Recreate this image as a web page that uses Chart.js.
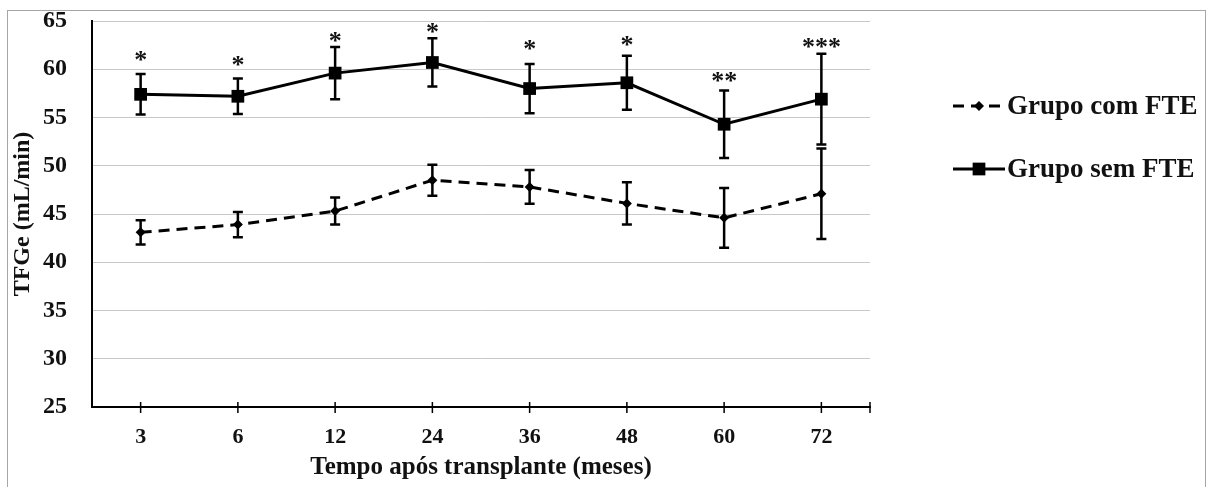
<!DOCTYPE html>
<html>
<head>
<meta charset="utf-8">
<script src="https://cdn.jsdelivr.net/npm/chart.js@4"></script>
<style>
  html, body { margin: 0; padding: 0; background: #fff; overflow: hidden; }
  #wrap { position: relative; width: 1208px; height: 487px; }
  #frame { position: absolute; left: 7px; top: 10px; width: 1197px; height: 500px; border: 1px solid #a6a6a6; }
  #chart { position: absolute; left: 0; top: 0; }
</style>
</head>
<body>
<div id="wrap">
  <div id="frame"></div>
  <canvas id="chart" width="1208" height="487"></canvas>
</div>
<script>
// tempo após transplante (meses)
const months = ['3', '6', '12', '24', '36', '48', '60', '72'];

// TFGe média e erro de cada grupo
const comFTE = [43.1, 43.9, 45.3, 48.5, 47.8, 46.1, 44.6, 47.1];
const comErr = [1.25, 1.3, 1.4, 1.6, 1.75, 2.2, 3.1, 4.7];
const semFTE = [57.4, 57.2, 59.6, 60.7, 58.0, 58.6, 54.3, 56.9];
const semErr = [2.1, 1.85, 2.7, 2.5, 2.55, 2.8, 3.5, 4.7];

// marcas de significância e altura onde aparecem
const signif = ['*', '*', '*', '*', '*', '*', '**', '***'];
const signifLevel = [61.4, 60.9, 63.3, 64.3, 62.5, 62.9, 59.2, 62.75];

const yTicks = [25, 30, 35, 40, 45, 50, 55, 60, 65];

const serif = '"Liberation Serif", "Times New Roman", serif';
const ink = '#000';

// barras de erro desenhadas antes das linhas
const errorBars = {
    id: 'errorBars',
    beforeDatasetsDraw(chart) {
        const ctx = chart.ctx;
        const x = chart.scales.x, y = chart.scales.y;
        const sets = [[comFTE, comErr], [semFTE, semErr]];
        ctx.save();
        ctx.strokeStyle = ink;
        ctx.lineWidth = 2.5;
        sets.forEach(([vals, errs]) => {
            vals.forEach((v, i) => {
                const px = x.getPixelForValue(i);
                const top = y.getPixelForValue(v + errs[i]);
                const bot = y.getPixelForValue(v - errs[i]);
                ctx.beginPath();
                ctx.moveTo(px, top); ctx.lineTo(px, bot);
                ctx.moveTo(px - 5, top); ctx.lineTo(px + 5, top);
                ctx.moveTo(px - 5, bot); ctx.lineTo(px + 5, bot);
                ctx.stroke();
            });
        });
        ctx.restore();
    }
};

// asteriscos, marcas do eixo x e legenda
const extras = {
    id: 'extras',
    afterDraw(chart) {
        const ctx = chart.ctx;
        const x = chart.scales.x, y = chart.scales.y;
        const area = chart.chartArea;
        ctx.save();

        // marcas do eixo x
        ctx.strokeStyle = ink;
        ctx.lineWidth = 1.5;
        ctx.beginPath();
        months.forEach((m, i) => {
            const px = x.getPixelForTick(i);
            ctx.moveTo(px, area.bottom - 5); ctx.lineTo(px, area.bottom + 6);
        });
        ctx.moveTo(area.right, area.bottom - 5); ctx.lineTo(area.right, area.bottom + 6);
        ctx.stroke();

        // asteriscos
        ctx.fillStyle = '#111';
        ctx.font = 'bold 26px ' + serif;
        ctx.textAlign = 'center';
        ctx.textBaseline = 'alphabetic';
        signif.forEach((s, i) => {
            ctx.fillText(s, x.getPixelForValue(i), y.getPixelForValue(signifLevel[i]) + 12);
        });

        // legenda
        const rows = [106, 169];
        chart.data.datasets.forEach((ds, k) => {
            const ly = rows[k];
            ctx.strokeStyle = ds.borderColor;
            ctx.lineWidth = ds.borderWidth;
            ctx.setLineDash(ds.borderDash || []);
            ctx.beginPath();
            ctx.moveTo(953, ly); ctx.lineTo(1005, ly);
            ctx.stroke();
            ctx.setLineDash([]);
            ctx.fillStyle = ds.pointBackgroundColor;
            const r = ds.pointRadius;
            ctx.beginPath();
            if (ds.pointStyle === 'rect') {
                const h = r * Math.SQRT1_2;
                ctx.rect(979 - h, ly - h, 2 * h, 2 * h);
            } else {
                ctx.moveTo(979, ly - r); ctx.lineTo(979 + r, ly);
                ctx.lineTo(979, ly + r); ctx.lineTo(979 - r, ly);
                ctx.closePath();
            }
            ctx.fill();
            ctx.fillStyle = '#111';
            ctx.font = 'bold 27px ' + serif;
            ctx.textAlign = 'left';
            ctx.textBaseline = 'middle';
            ctx.fillText(ds.label, 1007, ly + 1);
        });
        ctx.restore();
    }
};

new Chart(document.getElementById('chart'), {
    type: 'line',
    data: {
        labels: months,
        datasets: [
            {
                label: 'Grupo com FTE',
                data: comFTE,
                borderColor: ink,
                borderWidth: 3,
                borderDash: [11, 7],
                pointStyle: 'rectRot',
                pointRadius: 5,
                pointBackgroundColor: ink,
                pointBorderWidth: 0,
                tension: 0
            },
            {
                label: 'Grupo sem FTE',
                data: semFTE,
                borderColor: ink,
                borderWidth: 3,
                pointStyle: 'rect',
                pointRadius: 9,
                pointBackgroundColor: ink,
                pointBorderWidth: 0,
                tension: 0
            }
        ]
    },
    options: {
        responsive: false,
        animation: false,
        devicePixelRatio: 1,
        layout: { padding: { top: 21, right: 338, bottom: 0, left: 0 } },
        plugins: { legend: { display: false }, tooltip: { enabled: false } },
        scales: {
            x: {
                offset: true,
                grid: { display: false },
                border: { display: true, color: ink, width: 2 },
                ticks: { color: '#111', padding: 9, font: { family: serif, size: 22, weight: 'bold' } },
                title: {
                    display: true,
                    text: 'Tempo após transplante (meses)',
                    color: '#111',
                    padding: { top: 0, bottom: 4 },
                    font: { family: serif, size: 25, weight: 'bold' }
                },
                afterFit: (s) => { s.height = 80; }
            },
            y: {
                min: 25,
                max: 65,
                afterBuildTicks: (s) => { s.ticks = yTicks.map(v => ({ value: v })); },
                grid: { color: '#c8c8c8', lineWidth: 1, drawTicks: false },
                border: { color: ink, width: 2 },
                ticks: { color: '#111', padding: 25, font: { family: serif, size: 24, weight: 'bold' } },
                title: {
                    display: true,
                    text: 'TFGe (mL/min)',
                    color: '#111',
                    padding: { top: 11, bottom: 0 },
                    font: { family: serif, size: 24, weight: 'bold', lineHeight: 1 }
                },
                afterFit: (s) => { s.width = 92; s.paddingTop = 0; s.paddingBottom = 0; }
            }
        }
    },
    plugins: [errorBars, extras]
});
</script>
</body>
</html>
